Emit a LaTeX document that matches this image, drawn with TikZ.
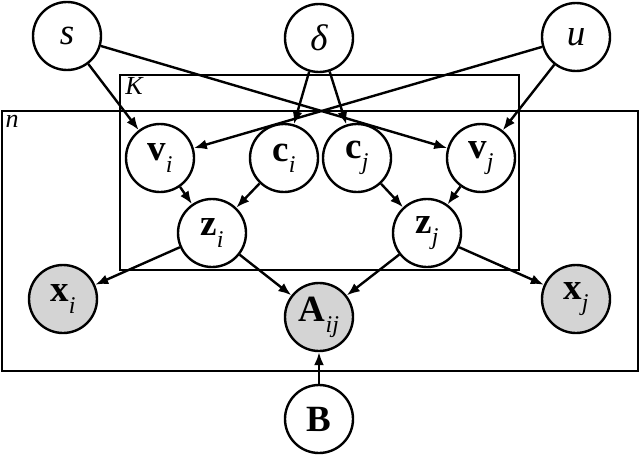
\documentclass[tikz,border=0pt]{standalone}
\usepackage{fontspec}
\setmainfont{Liberation Serif}
\usetikzlibrary{arrows.meta}
\definecolor{obsgray}{RGB}{212,212,212}
\newcommand{\mysub}[1]{\raisebox{-0.3em}{\fontsize{24}{24}\selectfont\itshape #1}}
\begin{document}
\begin{tikzpicture}[x=1pt,y=-1pt,
  var/.style={circle,draw,line width=2.4pt,minimum size=68pt,inner sep=0pt,fill=white,font=\fontsize{37}{37}\selectfont},
  obs/.style={var,fill=obsgray},
  plate/.style={draw,line width=2.4pt},
  edge/.style={line width=2.4pt,-{Latex[length=13pt,width=10pt]}},
  lab/.style={font=\fontsize{26}{26}\selectfont\itshape,inner sep=0pt}]
\useasboundingbox (0,0) rectangle (640,455);
\draw[plate] (2,111) rectangle (638,371);
\draw[plate] (120,75) rectangle (519,270);
\node[lab] (nl) at (12,121) {n};
\node[lab] (kl) at (134,86) {K};
\node[var] (s) at (67,36) {\itshape s};
\node[var] (d) at (319,38) {\itshape δ};
\node[var] (u) at (576,37) {\itshape u};
\node[var] (vi) at (160,158) {\textbf{v}\mysub{i}};
\node[var] (ci) at (284,158) {\textbf{c}\mysub{i}};
\node[var] (cj) at (357,158) {\textbf{c}\mysub{j}};
\node[var] (vj) at (481,158) {\textbf{v}\mysub{j}};
\node[var] (zi) at (212,233) {\textbf{z}\mysub{i}};
\node[var] (zj) at (427,233) {\textbf{z}\mysub{j}};
\node[obs] (xi) at (63,299) {\textbf{x}\mysub{i}};
\node[obs] (xj) at (576,299) {\textbf{x}\mysub{j}};
\node[obs] (A) at (319,317) {\textbf{A}\mysub{ij}};
\node[var] (B) at (319,419) {\textbf{B}};
\draw[edge] (s) -- (vi);
\draw[edge] (s) -- (vj);
\draw[edge] (u) -- (vi);
\draw[edge] (u) -- (vj);
\draw[edge] (d) -- (ci);
\draw[edge] (d) -- (cj);
\draw[edge] (vi) -- (zi);
\draw[edge] (ci) -- (zi);
\draw[edge] (cj) -- (zj);
\draw[edge] (vj) -- (zj);
\draw[edge] (zi) -- (xi);
\draw[edge] (zi) -- (A);
\draw[edge] (zj) -- (A);
\draw[edge] (zj) -- (xj);
\draw[edge] (B) -- (A);
\end{tikzpicture}
\end{document}
